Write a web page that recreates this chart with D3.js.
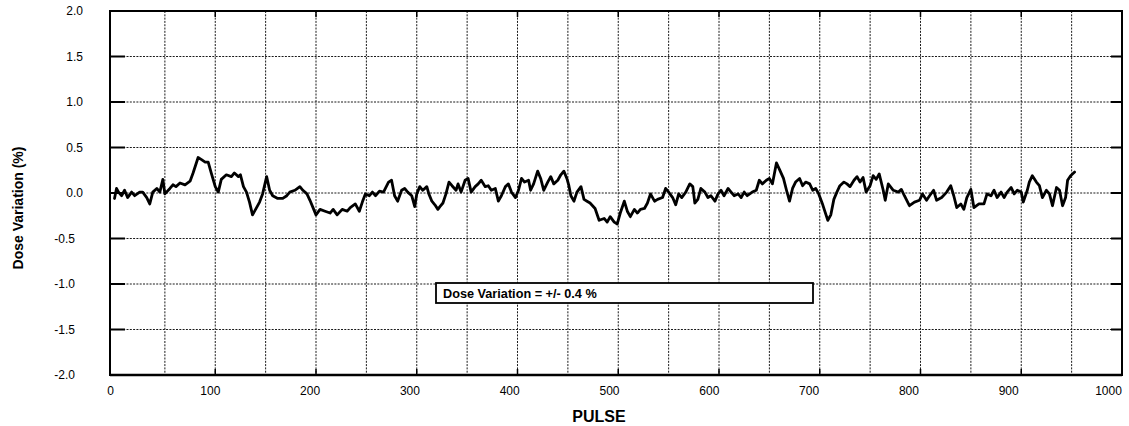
<!DOCTYPE html>
<html>
<head>
<meta charset="utf-8">
<script src="https://cdn.jsdelivr.net/npm/d3@7"></script>
<style>
  html, body { margin: 0; padding: 0; background: #fff; }
  svg { display: block; font-family: "Liberation Sans", Arial, sans-serif; }
</style>
</head>
<body>
<svg id="chart" width="1129" height="426"></svg>
<script>
// ---- data ----
const pulses = [
  0, 2, 4, 7, 10, 13, 17, 20, 25, 28, 32, 35, 38, 42, 45, 48, 50, 55, 58, 61,
  65, 70, 75, 78, 83, 86, 90, 93, 96, 100, 103, 106, 111, 116, 119, 123, 125, 128, 131, 134,
  137, 141, 144, 147, 151, 154, 157, 162, 167, 171, 174, 179, 184, 187, 191, 194, 200, 204, 209, 214,
  217, 221, 226, 231, 234, 239, 243, 246, 249, 253, 256, 259, 263, 267, 272, 275,
  278, 281, 285, 288, 291, 295, 298, 300, 303, 306, 310, 312, 315, 318, 321, 323, 326, 329, 332, 335,
  339, 341, 344, 348, 351, 354, 358, 361, 364, 368, 371, 374, 378, 381, 384, 388, 391, 394, 398, 401,
  404, 407, 411, 413, 416, 420, 423, 426, 430, 433, 436, 440, 443, 446, 449, 451, 453, 456, 459, 463,
  466, 469, 472, 477, 481, 486, 489, 492, 496, 499, 502, 506, 509, 512, 516, 519, 522, 526, 529, 532,
  536, 539, 544, 547, 550, 554, 557, 560, 563, 567, 571,
  574, 576, 579, 582, 586, 589, 592, 596, 599, 602, 605, 609, 612, 615, 619, 622, 625, 628, 633, 637,
  640, 643, 647, 650, 653, 657, 660, 664, 667, 670, 673, 676, 680, 683, 686, 690, 693, 696, 699, 703,
  705, 708, 711, 714, 717, 720, 724, 727, 730, 734, 737,
  740, 743, 746, 750, 753, 756, 759, 763, 765, 768, 773, 778, 781, 784, 789, 794, 799, 802, 806, 809,
  813, 816, 821, 826, 830, 833, 836, 840, 843, 846, 850, 853, 858, 863, 866, 870, 873, 876, 880, 883,
  886, 890, 893, 896, 900, 902, 906, 908, 911, 915, 918, 921, 925, 928, 931, 935, 938, 941, 944, 946,
  949, 953
];
const doseVariation = [
  -0.06, 0.05, 0.01, -0.03, 0.03, -0.05, 0.01, -0.03, 0.01, 0.01, -0.05, -0.12, 0.01, 0.05, 0.01, 0.15, -0.01, 0.05, 0.09, 0.07,
  0.11, 0.09, 0.13, 0.22, 0.39, 0.37, 0.34, 0.34, 0.22, 0.07, 0.01, 0.15, 0.20, 0.18, 0.22, 0.18, 0.20, 0.07, 0.01, -0.10,
  -0.24, -0.16, -0.10, -0.01, 0.18, 0.03, -0.03, -0.06, -0.06, -0.03, 0.01, 0.03, 0.07, 0.03, -0.01, -0.08, -0.24, -0.18, -0.20, -0.22,
  -0.18, -0.24, -0.18, -0.20, -0.16, -0.12, -0.20, -0.10, -0.01, -0.03, 0.01, -0.03, 0.02, 0.01, 0.12, 0.14,
  -0.03, -0.09, 0.03, 0.05, 0.01, -0.03, -0.15, -0.01, 0.07, 0.03, 0.07, -0.01, -0.09, -0.13, -0.18, -0.15, -0.11, -0.01, 0.12, 0.08,
  0.03, 0.10, 0.01, 0.14, 0.16, 0.01, 0.07, 0.10, 0.14, 0.07, 0.08, 0.03, 0.05, -0.09, -0.03, 0.07, 0.10, 0.01, -0.05, 0.03,
  0.16, 0.12, 0.14, 0.03, 0.10, 0.24, 0.16, 0.03, 0.12, 0.18, 0.10, 0.14, 0.20, 0.24, 0.16, 0.08, -0.03, -0.09, 0.01, 0.07,
  -0.07, -0.09, -0.11, -0.17, -0.30, -0.28, -0.32, -0.26, -0.32, -0.34, -0.22, -0.09, -0.20, -0.26, -0.18, -0.22, -0.18, -0.17, -0.11, -0.01,
  -0.09, -0.07, -0.05, 0.05, 0.01, -0.05, -0.13, -0.01, -0.05, 0.01, 0.10,
  0.07, -0.11, -0.07, 0.05, 0.01, -0.05, -0.03, -0.09, -0.01, 0.03, -0.03, 0.05, 0.01, -0.03, -0.01, -0.05, 0.01, -0.03, 0.01, 0.03,
  0.14, 0.10, 0.14, 0.16, 0.10, 0.33, 0.26, 0.16, 0.03, -0.09, 0.05, 0.12, 0.16, 0.08, 0.12, 0.10, 0.03, 0.05, -0.01, -0.13,
  -0.20, -0.30, -0.24, -0.07, 0.01, 0.08, 0.12, 0.10, 0.07, 0.14, 0.18,
  0.12, 0.17, 0.01, 0.08, 0.19, 0.15, 0.21, 0.03, -0.08, 0.10, 0.03, 0.01, 0.04, -0.03, -0.14, -0.10, -0.08, -0.01, -0.08, -0.03,
  0.03, -0.08, -0.05, 0.01, 0.08, -0.03, -0.16, -0.12, -0.18, -0.05, 0.04, -0.16, -0.12, -0.12, -0.01, -0.03, 0.03, -0.05, 0.01, -0.05,
  0.01, 0.06, -0.01, 0.03, 0.01, -0.10, 0.03, 0.12, 0.19, 0.12, 0.08, -0.05, 0.03, -0.01, -0.14, 0.06, 0.03, -0.14, -0.05, 0.14,
  0.19, 0.23
];
const xTickLabels = [0, 100, 200, 300, 400, 500, 600, 700, 800, 900, 1000];
const xGridValues = [50, 100, 150, 200, 250, 300, 350, 400, 450, 500, 550, 600, 650, 700, 750, 800, 850, 900, 950];
const yTickLabels = [-2.0, -1.5, -1.0, -0.5, 0.0, 0.5, 1.0, 1.5, 2.0];
const yGridValues = [-1.5, -1.0, -0.5, 0.0, 0.5, 1.0, 1.5];
const xTitle = "PULSE";
const yTitle = "Dose Variation (%)";
const noteText = "Dose Variation = +/- 0.4 %";

// ---- layout ----
const frame = { left: 110, right: 1122, top: 11, bottom: 375 };
const svg = d3.select("#chart");

const x = d3.scaleLinear().domain([0, 1000]).range([114.5, 1122]);
const xLabel = d3.scaleLinear().domain([0, 1000]).range([110, 1108]);
const y = d3.scaleLinear().domain([-2, 2]).range([frame.bottom, frame.top]);

// gridlines
const grid = svg.append("g").attr("stroke", "#1a1a1a").attr("stroke-width", 1)
  .attr("stroke-dasharray", "2,1.3");
grid.selectAll("line.v").data(xGridValues).join("line").attr("class", "v")
  .attr("x1", d => x(d)).attr("x2", d => x(d))
  .attr("y1", frame.top).attr("y2", frame.bottom);
grid.selectAll("line.h").data(yGridValues).join("line").attr("class", "h")
  .attr("x1", frame.left).attr("x2", frame.right)
  .attr("y1", d => y(d)).attr("y2", d => y(d));

// inner tick stubs
const stubs = svg.append("g").attr("stroke", "#000").attr("stroke-width", 2);
stubs.selectAll("line.l").data(yGridValues).join("line").attr("class", "l")
  .attr("x1", frame.left).attr("x2", frame.left + 15)
  .attr("y1", d => y(d)).attr("y2", d => y(d));
stubs.selectAll("line.r").data(yGridValues).join("line").attr("class", "r")
  .attr("x1", frame.right - 11).attr("x2", frame.right)
  .attr("y1", d => y(d)).attr("y2", d => y(d));
stubs.selectAll("line.b").data(xGridValues.filter(d => d % 100 === 0)).join("line").attr("class", "b")
  .attr("stroke-width", 1.5)
  .attr("x1", d => x(d)).attr("x2", d => x(d))
  .attr("y1", frame.bottom).attr("y2", frame.bottom - 6);
stubs.selectAll("line.t").data(xGridValues.filter(d => d % 100 === 0)).join("line").attr("class", "t")
  .attr("stroke-width", 1.5)
  .attr("x1", d => x(d)).attr("x2", d => x(d))
  .attr("y1", frame.top).attr("y2", frame.top + 6);

// data line
const line = d3.line().x((d, i) => x(pulses[i])).y(d => y(d));
svg.append("path").datum(doseVariation)
  .attr("d", line)
  .attr("fill", "none").attr("stroke", "#000")
  .attr("stroke-width", 2.8).attr("stroke-linejoin", "round").attr("stroke-linecap", "round");

// frame
svg.append("rect")
  .attr("x", frame.left).attr("y", frame.top)
  .attr("width", frame.right - frame.left).attr("height", frame.bottom - frame.top)
  .attr("fill", "none").attr("stroke", "#000").attr("stroke-width", 2);
svg.append("line")
  .attr("x1", frame.left).attr("x2", frame.right)
  .attr("y1", frame.bottom).attr("y2", frame.bottom)
  .attr("stroke", "#000").attr("stroke-width", 2.6);

// x axis labels
const xAxis = d3.axisBottom(xLabel).tickValues(xTickLabels).tickSize(0).tickPadding(11)
  .tickFormat(d => String(d));
const gx = svg.append("g").attr("transform", `translate(0,${frame.bottom})`).call(xAxis);
gx.select(".domain").remove();
gx.selectAll("text").attr("font-size", 12).attr("fill", "#000")
  .attr("font-family", '"Liberation Sans", Arial, sans-serif');

// y axis labels
const yAxis = d3.axisLeft(y).tickValues(yTickLabels).tickSize(0).tickPadding(27)
  .tickFormat(d => d.toFixed(1));
const gy = svg.append("g").attr("transform", `translate(${frame.left},0)`).call(yAxis);
gy.select(".domain").remove();
gy.selectAll("text").attr("font-size", 12).attr("fill", "#000")
  .attr("font-family", '"Liberation Sans", Arial, sans-serif')
  .attr("x", d => d < 0 ? -35 : -27);

// axis titles
svg.append("text").attr("x", 599).attr("y", 422).attr("text-anchor", "middle")
  .attr("font-size", 16).attr("font-weight", "bold").text(xTitle);
svg.append("text").attr("transform", "translate(23,208) rotate(-90)").attr("text-anchor", "middle")
  .attr("font-size", 14).attr("font-weight", "bold").text(yTitle);

// note box
svg.append("rect").attr("x", 436).attr("y", 283).attr("width", 377).attr("height", 20)
  .attr("fill", "#fff").attr("stroke", "#000").attr("stroke-width", 1.8);
svg.append("text").attr("x", 443).attr("y", 297.5)
  .attr("font-size", 12.7).attr("font-weight", "bold").text(noteText);
</script>
</body>
</html>
